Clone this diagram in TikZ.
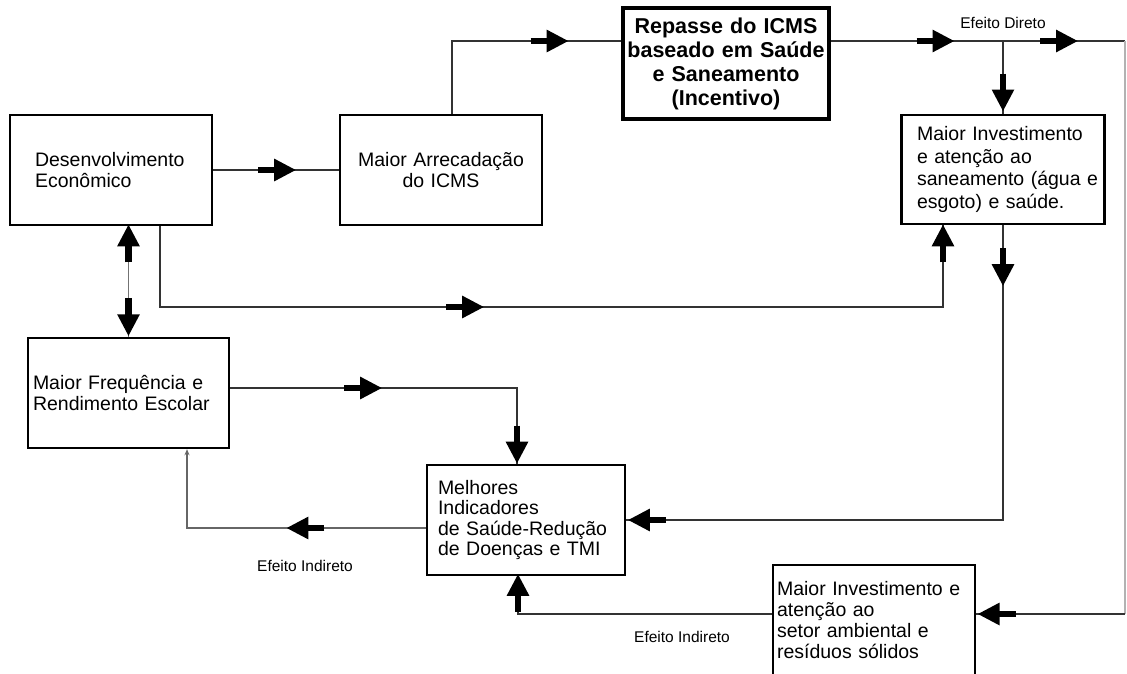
\documentclass[tikz,border=0pt]{standalone}
\usepackage{fontspec}
\setmainfont{Liberation Sans}
\usetikzlibrary{arrows.meta,decorations.markings,calc}
\begin{document}
\begin{tikzpicture}[x=1pt,y=-1pt,
  box/.style={draw=black,line width=2.4pt,inner sep=0pt,font=\fontsize{19.5}{21}\selectfont},
  conn/.style={line width=1.2pt,draw=black!80},
  blk/.style={draw=black,fill=black,line width=6.5pt,-{Triangle[length=22pt,width=21pt]}},
  fwdat/.style={postaction={decorate,decoration={markings,mark=at position #1 with {\draw[blk] (-19pt,0pt) -- (19pt,0pt);}}}},
  revat/.style={postaction={decorate,decoration={markings,mark=at position #1 with {\draw[blk] (19pt,0pt) -- (-19pt,0pt);}}}},
  lbl/.style={font=\fontsize{15.5}{17}\selectfont, inner sep=0pt}
]
\useasboundingbox[fill=white] (0,0) rectangle (1127,673);

% boxes
\node[box, minimum width=202pt, minimum height=110pt, text width=152pt, align=left] (dev) at (111,170) {\mbox{Desenvolvimento}\\Econômico};
\node[box, minimum width=202pt, minimum height=110pt, text width=190pt, align=center] (arr) at (441,170) {Maior Arrecadação\\do ICMS};
\node[box, line width=3.2pt, minimum width=206pt, minimum height=111pt, text width=206pt, align=center, font=\bfseries\fontsize{21.5}{24}\selectfont] (rep) at (726,63.5) {Repasse do ICMS\\\mbox{baseado em Saúde}\\e Saneamento\\(Incentivo)};
\node[box, minimum width=203pt, minimum height=109pt, text width=172pt, align=left, font=\fontsize{19.5}{22.5}\selectfont] (inv) at (1003,169.5) {\mbox{Maior Investimento}\\e atenção ao\\\mbox{saneamento (água e}\\\mbox{esgoto) e saúde.}};
\node[box, minimum width=201pt, minimum height=110pt, text width=191pt, align=left] (freq) at (128.5,393) {Maior Frequência e\\Rendimento Escolar};
\node[box, minimum width=198pt, minimum height=110pt, text width=176pt, align=left, font=\fontsize{19.5}{20.5}\selectfont] (mel) at (526,520) {Melhores\\Indicadores\\\mbox{de Saúde-Redução}\\\mbox{de Doenças e TMI}};
\node[box, minimum width=202pt, minimum height=110pt, text width=194pt, align=left] (amb) at (874,620) {\mbox{Maior Investimento e}\\atenção ao\\setor ambiental e\\resíduos sólidos};

% labels
\node[lbl] (ed) at (1003,23) {Efeito Direto};
\node[lbl] (ei1) at (305,566) {Efeito Indireto};
\node[lbl] (ei2) at (682,637) {Efeito Indireto};

% helper coordinates
\coordinate (jd) at (1003,41);
\coordinate (rtop) at (1125,41);
\coordinate (rbot) at (1125,614);
\coordinate (dl) at (943,307);
\coordinate (fm) at (517,388);
\coordinate (im) at (1003,520);
\coordinate (mf) at (187,528);
\coordinate (am) at (518,614);

% connectors
\draw[conn, fwdat=64pt] (dev.east) -- (arr.west);
\draw[conn, fwdat=170.5pt] ([xshift=11pt]arr.north) |- (rep.west |- jd);
\draw[conn, fwdat=105pt, fwdat=228.5pt] (rep.east |- jd) -- (rtop);
\draw[conn, draw=black!30] (rtop) -- (rbot);
\draw[conn, fwdat=128.5pt] (rbot) -- (amb.east |- rbot);
\draw[conn, fwdat=51.5pt] (jd) -- (inv.north);
\draw[conn, fwdat=386pt, fwdat=927.5pt] ([xshift=49pt]dev.south) |- (dl) -- (dl |- inv.south);
\draw[conn, draw=black!55, fwdat=93.5pt, revat=19.5pt] (freq.north) -- (freq.north |- dev.south);
\draw[conn, fwdat=133pt, fwdat=343.5pt] (freq.east |- fm) -- (fm) -- (fm |- mel.north);
\draw[conn, fwdat=42pt, fwdat=651pt] (inv.south) -- (im) -- (mel.east);
\draw[conn, draw=black!60, fwdat=120.5pt, -{Stealth[length=6pt,width=5pt]}] ([yshift=-8pt]mel.west) -- (mf) -- (mf |- freq.south);
\draw[conn, fwdat=275pt] ([yshift=6pt]amb.west) -- (am) -- (am |- mel.south);
\end{tikzpicture}
\end{document}
